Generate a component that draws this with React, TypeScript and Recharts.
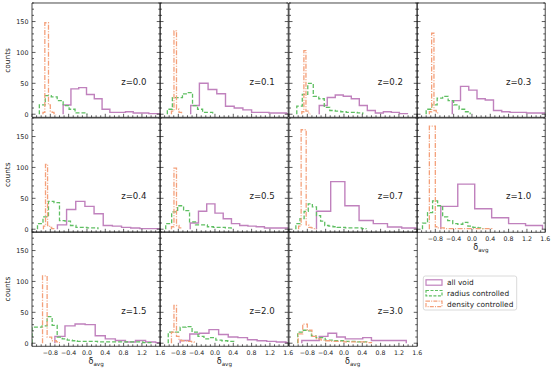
import React from "react";
import { LineChart, Line, XAxis, YAxis } from "recharts";

const redshifts = ["0.0", "0.1", "0.2", "0.3", "0.4", "0.5", "0.7", "1.0", "1.5", "2.0", "3.0"];

// each histogram: [first bin edge, bin width] and the counts per bin, one row per redshift
const allVoidBins = [
  [-0.52, 0.17], [-0.53, 0.19], [-0.54, 0.175], [-0.43, 0.18], [-0.645, 0.2], [-0.54, 0.18],
  [-0.6, 0.31], [-0.68, 0.37], [-0.7, 0.22], [-0.76, 0.21], [-0.92, 0.19],
];
const allVoidCounts = [
  [15, 41, 43, 32, 25, 8, 3, 3, 4, 2, 2, 1, 1],
  [14, 50, 40, 33, 13, 10, 7, 3, 3, 2, 2, 1],
  [14, 27, 31, 29, 25, 14, 6, 2, 4, 3, 1],
  [22, 45, 39, 25, 23, 6, 4, 3, 3, 2, 2, 2],
  [7, 32, 45, 37, 25, 6, 5, 3, 2, 1, 1, 1],
  [10, 29, 41, 26, 17, 9, 6, 5, 4, 2, 2, 2, 1],
  [29, 77, 38, 14, 9, 3.5, 2],
  [37, 73, 33, 18.5, 9, 6],
  [11, 28, 31, 30, 12, 7, 4.5, 2, 4.5, 2, 1],
  [4.5, 15, 16, 22, 14, 10, 9, 5.5, 4, 3, 2, 1],
  [4.5, 4.5, 11, 16, 10, 7, 7, 9, 4.5, 4.5, 4.5, 4.5],
];

const radiusBins = [
  [-1.04, 0.13], [-1.04, 0.11], [-1.03, 0.12], [-1.0, 0.12], [-1.08, 0.12], [-1.075, 0.13],
  [-1.05, 0.09], [-1.08, 0.11], [-1.2, 0.11], [-1.02, 0.13], [-1.01, 0.1],
];
const radiusCounts = [
  [15, 30, 28, 22, 14, 8, 2, 2],
  [8, 27, 27, 33, 35, 14, 8, 3, 3],
  [13, 32, 50, 29, 25, 11, 6, 5, 4, 3, 3, 2],
  [8, 15, 26, 29, 22, 15, 8, 4],
  [9, 20, 45, 43, 14, 13, 6, 3, 3, 2, 2],
  [9, 28, 38, 30, 12, 7, 7, 4, 3, 3, 2],
  [9, 17, 29, 41, 36, 22, 13, 6, 5, 4, 3, 3, 2, 2, 2, 2, 1],
  [10, 27, 46, 38, 20, 14, 9, 8, 11, 5, 3, 2],
  [26, 26, 28, 43, 29, 10, 7, 5, 4, 3, 3, 3, 3, 2, 2, 2, 2, 2, 2, 2, 2, 2, 1, 1],
  [18, 18, 26, 27, 18, 11, 7, 9, 5, 4, 3],
  [18, 21, 20, 12, 9, 9, 5, 5, 4, 4, 3, 3, 3, 2, 2],
];

const densityBins = [
  [-0.96, 0.04], [-0.95, 0.055], [-0.92, 0.045], [-0.93, 0.05], [-0.95, 0.045], [-0.95, 0.055],
  [-0.99, 0.055], [-0.93, 0.065], [-0.97, 0.05], [-0.95, 0.055], [-1.0, 0.1],
];
const densityCounts = [
  [3, 148, 148, 15, 5, 3, 1],
  [5, 135, 8, 3],
  [4, 103, 5, 2],
  [4, 131, 6, 2],
  [5, 105, 6, 3, 1],
  [4, 99, 6, 2],
  [5, 161, 161, 7, 3, 2, 1],
  [167, 167, 4, 2, 2, 1, 1, 1, 1, 1, 1, 1, 1, 1, 1, 1, 1, 1, 1, 1, 1],
  [109, 109, 10, 10, 4, 4, 2, 1],
  [18, 61, 11, 5, 4, 4, 3, 3, 2],
  [15, 31, 21, 11, 7, 5, 4, 3, 3, 3, 2, 2, 2, 2, 2, 1],
];

const X_DOMAIN = [-1.2, 1.6];
const Y_DOMAIN = [-5, 180];
const xTicks = Array.from({ length: 29 }, (_, i) => Math.round((-1.2 + i * 0.1) * 100) / 100);
const yTicks = Array.from({ length: 19 }, (_, i) => i * 10);

const PURPLE = "#c081bd";
const GREEN = "#5fbf62";
const ORANGE = "#f4a07a";
const AXIS = "#1a1a1a";
const FONT = "DejaVu Sans";

// layout of the 3x4 grid
const PW = 128.25;
const PH = 114.3;
const ML = 32;
const MR = 6;
const MT = 4;
const MB = 28;
const colLeft = (c: number) => 32 + c * PW;
const rowTop = (r: number) => 3.3 + r * PH;

const isMajor = (v: number, step: number) => Math.abs(v / step - Math.round(v / step)) < 1e-6;
const fmt = (v: number) => v.toFixed(1).replace("-", "\u2212");

// step outline of a histogram, like histtype="step"
function stepData(bins: number[], counts: number[]) {
  const [lo, w] = bins;
  const pts = [{ x: lo, y: 0 }];
  counts.forEach((c, i) => pts.push({ x: lo + i * w, y: c }));
  pts.push({ x: lo + counts.length * w, y: 0 });
  return pts;
}

function XTick({ x, y, payload, dir, labels }: any) {
  const v = payload.value;
  const major = isMajor(v, 0.4);
  const len = major ? 3.5 : 2;
  return (
    <g>
      <line x1={x} x2={x} y1={y} y2={y + dir * len} stroke={AXIS} strokeWidth={0.7} />
      {labels && major && v > -1.0 && (
        <text x={x} y={y + 8.3} textAnchor="middle" fontSize={6.3} fontFamily={FONT} fill="#222">
          {fmt(v)}
        </text>
      )}
    </g>
  );
}

function YTick({ x, y, payload, dir, labels }: any) {
  const v = payload.value;
  const major = isMajor(v, 50);
  const len = major ? 3.5 : 2;
  return (
    <g>
      <line x1={x} x2={x + dir * len} y1={y} y2={y} stroke={AXIS} strokeWidth={0.7} />
      {labels && major && (
        <text x={x - 3.5} y={y + 2.3} textAnchor="end" fontSize={6.4} fontFamily={FONT} fill="#222">
          {v}
        </text>
      )}
    </g>
  );
}

function Panel({ i }: { i: number }) {
  const c = i % 4;
  const r = Math.floor(i / 4);
  const showX = r === 2 || i === 7;
  const showY = c === 0;
  const axisLine = { stroke: AXIS, strokeWidth: 0.8 };
  return (
    <div style={{ position: "absolute", left: colLeft(c) - ML, top: rowTop(r) - MT }}>
      <LineChart width={PW + ML + MR} height={PH + MT + MB} margin={{ top: 0, right: 0, bottom: 0, left: 0 }}>
        <XAxis
          dataKey="x"
          type="number"
          domain={X_DOMAIN}
          allowDataOverflow
          ticks={xTicks}
          interval={0}
          height={MB}
          tickSize={0}
          tickMargin={0}
          tickLine={false}
          axisLine={axisLine}
          tick={(p: any) => <XTick {...p} dir={-1} labels={showX} />}
        />
        <XAxis
          xAxisId="top"
          orientation="top"
          type="number"
          domain={X_DOMAIN}
          allowDataOverflow
          ticks={xTicks}
          interval={0}
          height={MT}
          tickSize={0}
          tickMargin={0}
          tickLine={false}
          axisLine={axisLine}
          tick={(p: any) => <XTick {...p} dir={1} labels={false} />}
        />
        <YAxis
          type="number"
          domain={Y_DOMAIN}
          allowDataOverflow
          ticks={yTicks}
          interval={0}
          width={ML}
          tickSize={0}
          tickMargin={0}
          tickLine={false}
          axisLine={axisLine}
          tick={(p: any) => <YTick {...p} dir={1} labels={showY} />}
        />
        <YAxis
          yAxisId="right"
          orientation="right"
          type="number"
          domain={Y_DOMAIN}
          allowDataOverflow
          ticks={yTicks}
          interval={0}
          width={MR}
          tickSize={0}
          tickMargin={0}
          tickLine={false}
          axisLine={axisLine}
          tick={(p: any) => <YTick {...p} dir={-1} labels={false} />}
        />
        <Line
          data={stepData(allVoidBins[i], allVoidCounts[i])}
          dataKey="y"
          type="stepAfter"
          stroke={PURPLE}
          strokeWidth={1.4}
          dot={false}
          activeDot={false}
          isAnimationActive={false}
        />
        <Line
          data={stepData(radiusBins[i], radiusCounts[i])}
          dataKey="y"
          type="stepAfter"
          stroke={GREEN}
          strokeWidth={1.3}
          strokeDasharray="4 2"
          dot={false}
          activeDot={false}
          isAnimationActive={false}
        />
        <Line
          data={stepData(densityBins[i], densityCounts[i])}
          dataKey="y"
          type="stepAfter"
          stroke={ORANGE}
          strokeWidth={1.3}
          strokeDasharray="5 1.5 1 1.5"
          dot={false}
          activeDot={false}
          isAnimationActive={false}
        />
      </LineChart>
    </div>
  );
}

function XLabel({ cx, y }: { cx: number; y: number }) {
  return (
    <text x={cx} y={y} textAnchor="middle" fontSize={8} fill="#222">
      δ<tspan fontSize={5.6} dy={1.8}>avg</tspan>
    </text>
  );
}

const legendItems = [
  { label: "all void", color: PURPLE, dash: undefined },
  { label: "radius controlled", color: GREEN, dash: "3 1.5" },
  { label: "density controlled", color: ORANGE, dash: "4 1.2 1 1.2" },
];

export default function App() {
  return (
    <div style={{ position: "absolute", left: 0, top: 0, width: 555, height: 371, background: "#fff" }}>
      {redshifts.map((_, i) => (
        <Panel key={i} i={i} />
      ))}
      <svg
        width={555}
        height={371}
        style={{ position: "absolute", left: 0, top: 0, pointerEvents: "none" }}
        fontFamily={FONT}
      >
        {redshifts.map((z, i) => {
          const c = i % 4;
          const r = Math.floor(i / 4);
          return (
            <text key={z} x={colLeft(c) + 0.695 * PW} y={rowTop(r) + 0.69 * PH + 3} fontSize={8.6} fill="#222">
              z={z}
            </text>
          );
        })}
        {[0, 1, 2].map((r) => (
          <text
            key={r}
            transform={`translate(10, ${rowTop(r) + PH / 2}) rotate(-90)`}
            textAnchor="middle"
            fontSize={7.4}
            fill="#222"
          >
            counts
          </text>
        ))}
        {[0, 1, 2].map((c) => (
          <XLabel key={c} cx={colLeft(c) + PW / 2} y={rowTop(3) + 18} />
        ))}
        <XLabel cx={colLeft(3) + PW / 2} y={rowTop(2) + 18} />
        <rect x={423.3} y={276} width={93.4} height={34} rx={2} fill="#fff" stroke="#d0d0d0" strokeWidth={0.8} />
        {legendItems.map((it, k) => (
          <g key={it.label}>
            <rect
              x={426}
              y={279.8 + k * 10.7}
              width={16}
              height={5.4}
              fill="none"
              stroke={it.color}
              strokeWidth={1.2}
              strokeDasharray={it.dash}
            />
            <text x={447} y={285.2 + k * 10.7} fontSize={7.4} fill="#222">
              {it.label}
            </text>
          </g>
        ))}
      </svg>
    </div>
  );
}
